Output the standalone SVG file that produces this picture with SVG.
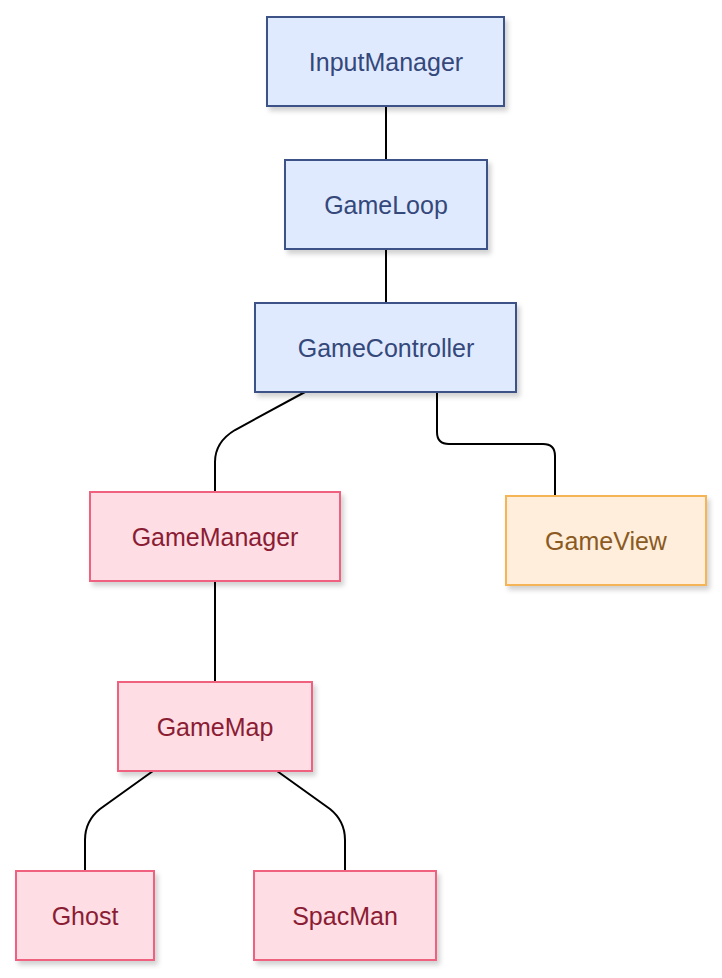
<svg xmlns="http://www.w3.org/2000/svg" width="722" height="978" viewBox="0 0 722 978">
<defs>
<filter id="sh" x="-10%" y="-10%" width="130%" height="140%"><feDropShadow dx="3" dy="4" stdDeviation="2.5" flood-color="#000" flood-opacity="0.18"/></filter>
<style>
.b rect{fill:#e0eaff;stroke:#3d5288;stroke-width:2;filter:url(#sh)}
.b text{fill:#34487a}
.p rect{fill:#ffdde4;stroke:#f0607f;stroke-width:2;filter:url(#sh)}
.p text{fill:#8a1c34}
.o rect{fill:#ffeedb;stroke:#f5b556;stroke-width:2;filter:url(#sh)}
.o text{fill:#8a5a22}
text{font-family:"Liberation Sans",Arial,sans-serif;font-size:25px;text-anchor:middle;dominant-baseline:central}
.c path{fill:none;stroke:#000;stroke-width:2}
</style>
</defs>
<rect width="722" height="978" fill="#fff"/>
<g class="c">
<path d="M386,106V160"/>
<path d="M386,249V303"/>
<path d="M305,392L235,430Q215,442 215,462V492"/>
<path d="M437,392V432Q437,444 449,444H543Q555,444 555,456V496"/>
<path d="M215,581V682"/>
<path d="M153,771L100,809Q85,821 85,840V871"/>
<path d="M277,771L330,809Q345,821 345,840V871"/>
</g>
<g id="InputManager" class="b"><rect x="267" y="17" width="237" height="89"/><text x="386" y="62">InputManager</text></g>
<g id="GameLoop" class="b"><rect x="285" y="160" width="202" height="89"/><text x="386" y="205">GameLoop</text></g>
<g id="GameController" class="b"><rect x="255" y="303" width="261" height="89"/><text x="386" y="348">GameController</text></g>
<g id="GameManager" class="p"><rect x="90" y="492" width="250" height="89"/><text x="215" y="537">GameManager</text></g>
<g id="GameView" class="o"><rect x="506" y="496" width="200" height="89"/><text x="606" y="541">GameView</text></g>
<g id="GameMap" class="p"><rect x="118" y="682" width="194" height="89"/><text x="215" y="727">GameMap</text></g>
<g id="Ghost" class="p"><rect x="16" y="871" width="138" height="89"/><text x="85" y="916">Ghost</text></g>
<g id="SpacMan" class="p"><rect x="254" y="871" width="182" height="89"/><text x="345" y="916">SpacMan</text></g>
</svg>
